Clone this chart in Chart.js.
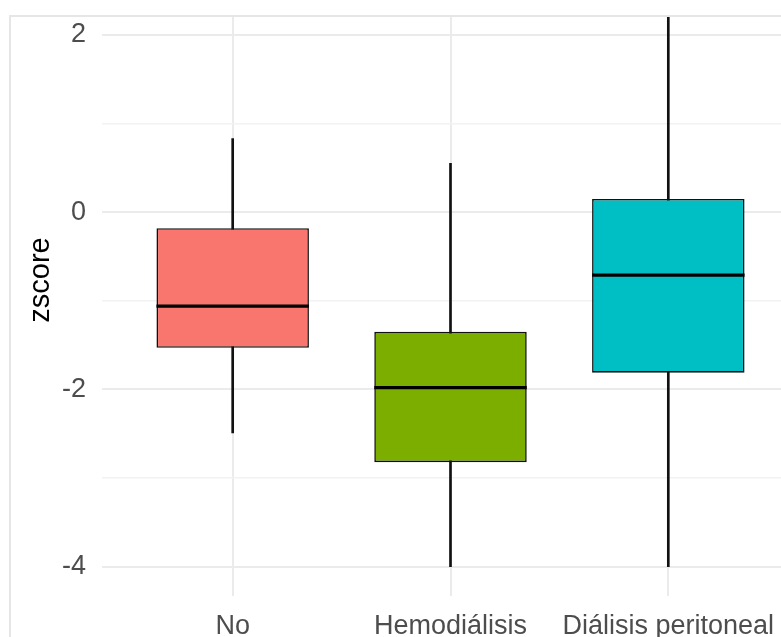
<!DOCTYPE html>
<html lang="es">
<head>
  <meta charset="UTF-8">
  <title>zscore</title>
  <script src="https://cdn.jsdelivr.net/npm/chart.js"></script>
  <style>
    html, body { margin: 0; padding: 0; background: #fff; overflow: hidden; width: 781px; height: 637px; }
    #chart { position: absolute; left: 0; top: -36px; }
    #cover { position: absolute; left: 0; top: 0; width: 800px; height: 15px; background: #fff; z-index: 2; }
    #frame { position: absolute; left: 9px; top: 15px; width: 800px; height: 700px;
             border-top: 2px solid #e6e6e6; border-left: 2px solid #e6e6e6; z-index: 3; pointer-events: none; }
  </style>
</head>
<body>
  <div id="cover"></div>
  <div id="frame"></div>
  <canvas id="chart" width="799" height="673"></canvas>

  <script>
    // boxplot values
    const categories = ["No", "Hemodiálisis", "Diálisis peritoneal"];
    const whiskerLow = [-2.49, -4.0, -4.0];
    const q1 = [-1.53, -2.82, -1.81];
    const median = [-1.06, -1.98, -0.71];
    const q3 = [-0.18, -1.35, 0.15];
    const whiskerHigh = [0.83, 0.55, 2.6];
    const fills = ["#F8766D", "#7CAE00", "#00BFC4"];
    const yTicks = [-4, -3, -2, -1, 0, 1, 2];

    const tickFont = { family: "'Liberation Sans', Arial, sans-serif", size: 27 };

    // draws the median line across each box
    const medianLines = {
      id: 'medianLines',
      afterDatasetsDraw(chart) {
        const meta = chart.getDatasetMeta(0);
        const y = chart.scales.y;
        const ctx = chart.ctx;
        ctx.save();
        ctx.strokeStyle = '#000';
        ctx.lineWidth = 3.2;
        meta.data.forEach((bar, i) => {
          const py = y.getPixelForValue(median[i]);
          ctx.beginPath();
          ctx.moveTo(bar.x - bar.width / 2, py);
          ctx.lineTo(bar.x + bar.width / 2, py);
          ctx.stroke();
        });
        ctx.restore();
      }
    };

    new Chart(document.getElementById('chart'), {
      type: 'bar',
      data: {
        datasets: [{
          label: 'box',
          data: categories.map((c, i) => ({ x: i + 1, y: [q1[i], q3[i]] })),
          backgroundColor: fills,
          borderColor: '#111',
          borderWidth: 1.6,
          borderSkipped: false,
          barPercentage: 0.7,
          categoryPercentage: 1,
          grouped: false,
          order: 0
        }, {
          label: 'whisker',
          data: categories.map((c, i) => ({ x: i + 1, y: [whiskerLow[i], whiskerHigh[i]] })),
          backgroundColor: '#111',
          barThickness: 2,
          grouped: false,
          order: 1
        }]
      },
      options: {
        responsive: false,
        animation: false,
        layout: { padding: 0 },
        plugins: { legend: { display: false }, tooltip: { enabled: false } },
        scales: {
          x: {
            type: 'linear',
            min: 0.4,
            max: 3.6,
            offset: false,
            afterBuildTicks: s => { s.ticks = categories.map((c, i) => ({ value: i + 1 })); },
            afterFit: s => { s.height = 41; s.paddingLeft = 0; s.paddingRight = 0; },
            ticks: {
              callback: v => categories[v - 1],
              font: tickFont,
              color: '#4d4d4d',
              padding: 14,
              autoSkip: false,
              maxRotation: 0
            },
            grid: { color: '#ebebeb', lineWidth: 2, drawTicks: false, offset: false },
            border: { display: false }
          },
          y: {
            min: -4.33,
            max: 2.8,
            afterBuildTicks: s => { s.ticks = yTicks.map(v => ({ value: v })); },
            afterFit: s => { s.width = 102; s.paddingTop = 0; s.paddingBottom = 0; },
            ticks: {
              callback: v => (v % 2 === 0 ? v : ''),
              font: tickFont,
              color: '#4d4d4d',
              padding: 16
            },
            grid: {
              color: c => (c.tick && c.tick.value % 2 === 0 ? '#ebebeb' : '#f2f2f2'),
              lineWidth: c => (c.tick && c.tick.value % 2 === 0 ? 2 : 1.6),
              drawTicks: false
            },
            border: { display: false },
            title: {
              display: true,
              text: 'zscore',
              color: '#000',
              font: { family: "'Liberation Sans', Arial, sans-serif", size: 29 },
              padding: { top: 24, bottom: 0 }
            }
          }
        }
      },
      plugins: [medianLines]
    });
  </script>
</body>
</html>
